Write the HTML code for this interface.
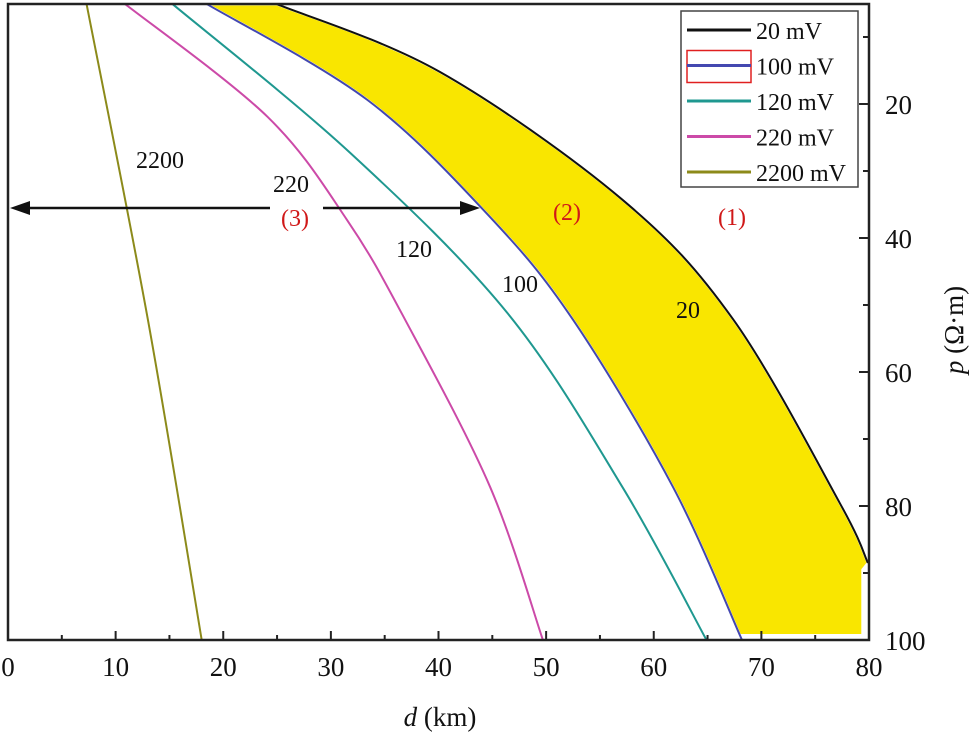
<!DOCTYPE html>
<html><head><meta charset="utf-8"><style>
html,body{margin:0;padding:0;background:#fff;}
svg{display:block;font-family:"Liberation Serif",serif;}
</style></head><body>
<svg id="chart" width="973" height="736" viewBox="0 0 973 736"></svg>
<script>
const xTicks=[0,10,20,30,40,50,60,70,80];
const yTicks=[20,40,60,80,100];
const d20=[25.0,40.1,57.1,67.4,77.3,79.9];
const p20=[5.1,15.2,34.3,52.2,79.6,88.5];
const d100=[18.5,33.4,44.8,52.5,61.8,68.2];
const p100=[5.1,19.4,36.9,52.2,77.2,100];
const d120=[15.3,31.8,46.4,57.1,64.9];
const p120=[5.1,27.3,51.2,77.2,100];
const d220=[10.9,24.1,31.5,36.9,44.8,49.7];
const p220=[5.1,21.9,37.3,52.2,77.2,100];
const d2200=[7.3,13.0,18.0];
const p2200=[5.1,52.2,100];
const bandRight=[79.4,79.4];
const bandRightP=[89.5,99.3];

const L=8,R=869,T=4,B=640;
const X=d=>L+(R-L)*d/80;
const Y=p=>104+(B-104)*(p-20)/80;
const NS="http://www.w3.org/2000/svg";
const svg=document.getElementById('chart');
function mk(tag,attrs,parent){const e=document.createElementNS(NS,tag);for(const k in attrs)e.setAttribute(k,attrs[k]);(parent||svg).appendChild(e);return e;}
function smooth(ds,ps){const pts=ds.map((d,i)=>[X(d),Y(ps[i])]);let s='M'+pts[0][0].toFixed(1)+','+pts[0][1].toFixed(1);for(let i=0;i<pts.length-1;i++){const p0=pts[i-1]||pts[i],p1=pts[i],p2=pts[i+1],p3=pts[i+2]||p2;const c1=[p1[0]+(p2[0]-p0[0])/6,p1[1]+(p2[1]-p0[1])/6],c2=[p2[0]-(p3[0]-p1[0])/6,p2[1]-(p3[1]-p1[1])/6];s+=` C${c1[0].toFixed(1)},${c1[1].toFixed(1)} ${c2[0].toFixed(1)},${c2[1].toFixed(1)} ${p2[0].toFixed(1)},${p2[1].toFixed(1)}`;}return s;}

// yellow band
const band=smooth(d20,p20)+` L${X(bandRight[0])},${Y(bandRightP[0])} L${X(bandRight[1])},${Y(bandRightP[1])} L${X(d100[d100.length-1])},${Y(bandRightP[1])} `+smooth(d100.slice().reverse(),p100.slice().reverse()).replace('M','L')+' Z';
const bandEl=mk('path',{d:band,fill:'#f9e600',stroke:'#fff','stroke-width':2.5});



const series=[[d20,p20,'#111','curve-20mv'],[d100,p100,'#4448b0','curve-100mv'],[d120,p120,'#1f9890','curve-120mv'],[d220,p220,'#cc4aa8','curve-220mv'],[d2200,p2200,'#8c8a1a','curve-2200mv']];
series.forEach(s=>{const e=mk('path',{d:smooth(s[0],s[1]),fill:'none',stroke:s[2],'stroke-width':2});

});

// frame
const fr=mk('rect',{x:L,y:T,width:R-L,height:B-T,fill:'none',stroke:'#222','stroke-width':2.5});



xTicks.forEach(t=>{
 mk('line',{x1:X(t),x2:X(t),y1:B,y2:B-9,stroke:'#222','stroke-width':2});
 if(t<80)mk('line',{x1:X(t+5),x2:X(t+5),y1:B,y2:B-5,stroke:'#222','stroke-width':2});
 const tx=mk('text',{x:X(t),y:B+36,'text-anchor':'middle','font-size':27,fill:'#111'});tx.textContent=t;
 
 
});
[10].concat(yTicks).forEach(t=>{
 const major=t%20===0;
 mk('line',{x1:R,x2:R-(major?10:6),y1:Y(t),y2:Y(t),stroke:'#222','stroke-width':2});
 if(t<100&&major)mk('line',{x1:R,x2:R-6,y1:Y(t+10),y2:Y(t+10),stroke:'#222','stroke-width':2});
});
yTicks.forEach(t=>{
 const tx=mk('text',{x:R+16,y:Y(t)+10,'font-size':27,fill:'#111'});tx.textContent=t;
 
 
});
const xt=mk('text',{x:440,y:726,'text-anchor':'middle','font-size':27,fill:'#111'});
xt.innerHTML='<tspan font-style="italic">d</tspan> (km)';


const yt=mk('text',{x:0,y:0,'text-anchor':'middle','font-size':27,fill:'#111',transform:'translate(963,330) rotate(-90)'});
yt.innerHTML='<tspan font-style="italic">p</tspan> (Ω·m)';



// arrow
mk('line',{x1:L+14,x2:478-14,y1:208,y2:208,stroke:'#111','stroke-width':2.5});
mk('polygon',{points:`${L+2},208 ${L+22},201 ${L+22},215`,fill:'#111'});
mk('polygon',{points:`480,208 460,201 460,215`,fill:'#111'});
const gap=mk('rect',{x:270,y:200,width:53,height:16,fill:'#fff'});



const labels=[['2200',160,168,'#111'],['220',291,192,'#111'],['(3)',295,226,'#d01818'],['120',414,257,'#111'],['100',520,292,'#111'],['(2)',567,220,'#d01818'],['(1)',732,225,'#d01818'],['20',688,318,'#111']];
labels.forEach(l=>{const t=mk('text',{x:l[1],y:l[2],'text-anchor':'middle','font-size':24,fill:l[3]});t.textContent=l[0];

});

// legend
const lg=mk('g',{});


mk('rect',{x:681,y:11,width:177,height:176,fill:'#fff',stroke:'#444','stroke-width':1.5},lg);
const names=['20 mV','100 mV','120 mV','220 mV','2200 mV'];
const cols=['#111','#4448b0','#1f9890','#cc4aa8','#8c8a1a'];
names.forEach((n,i)=>{const y=30+i*35.5;
 const g=mk('g',{},lg);
 
 
 if(i===1)mk('rect',{x:687,y:y-15,width:64,height:32,fill:'none',stroke:'#e02020','stroke-width':1.5},g);
 mk('line',{x1:687,x2:751,y1:y,y2:y,stroke:cols[i],'stroke-width':3},g);
 const t=mk('text',{x:756,y:y+9,'font-size':24,fill:'#111'},g);t.textContent=n;});
</script>
</body></html>
